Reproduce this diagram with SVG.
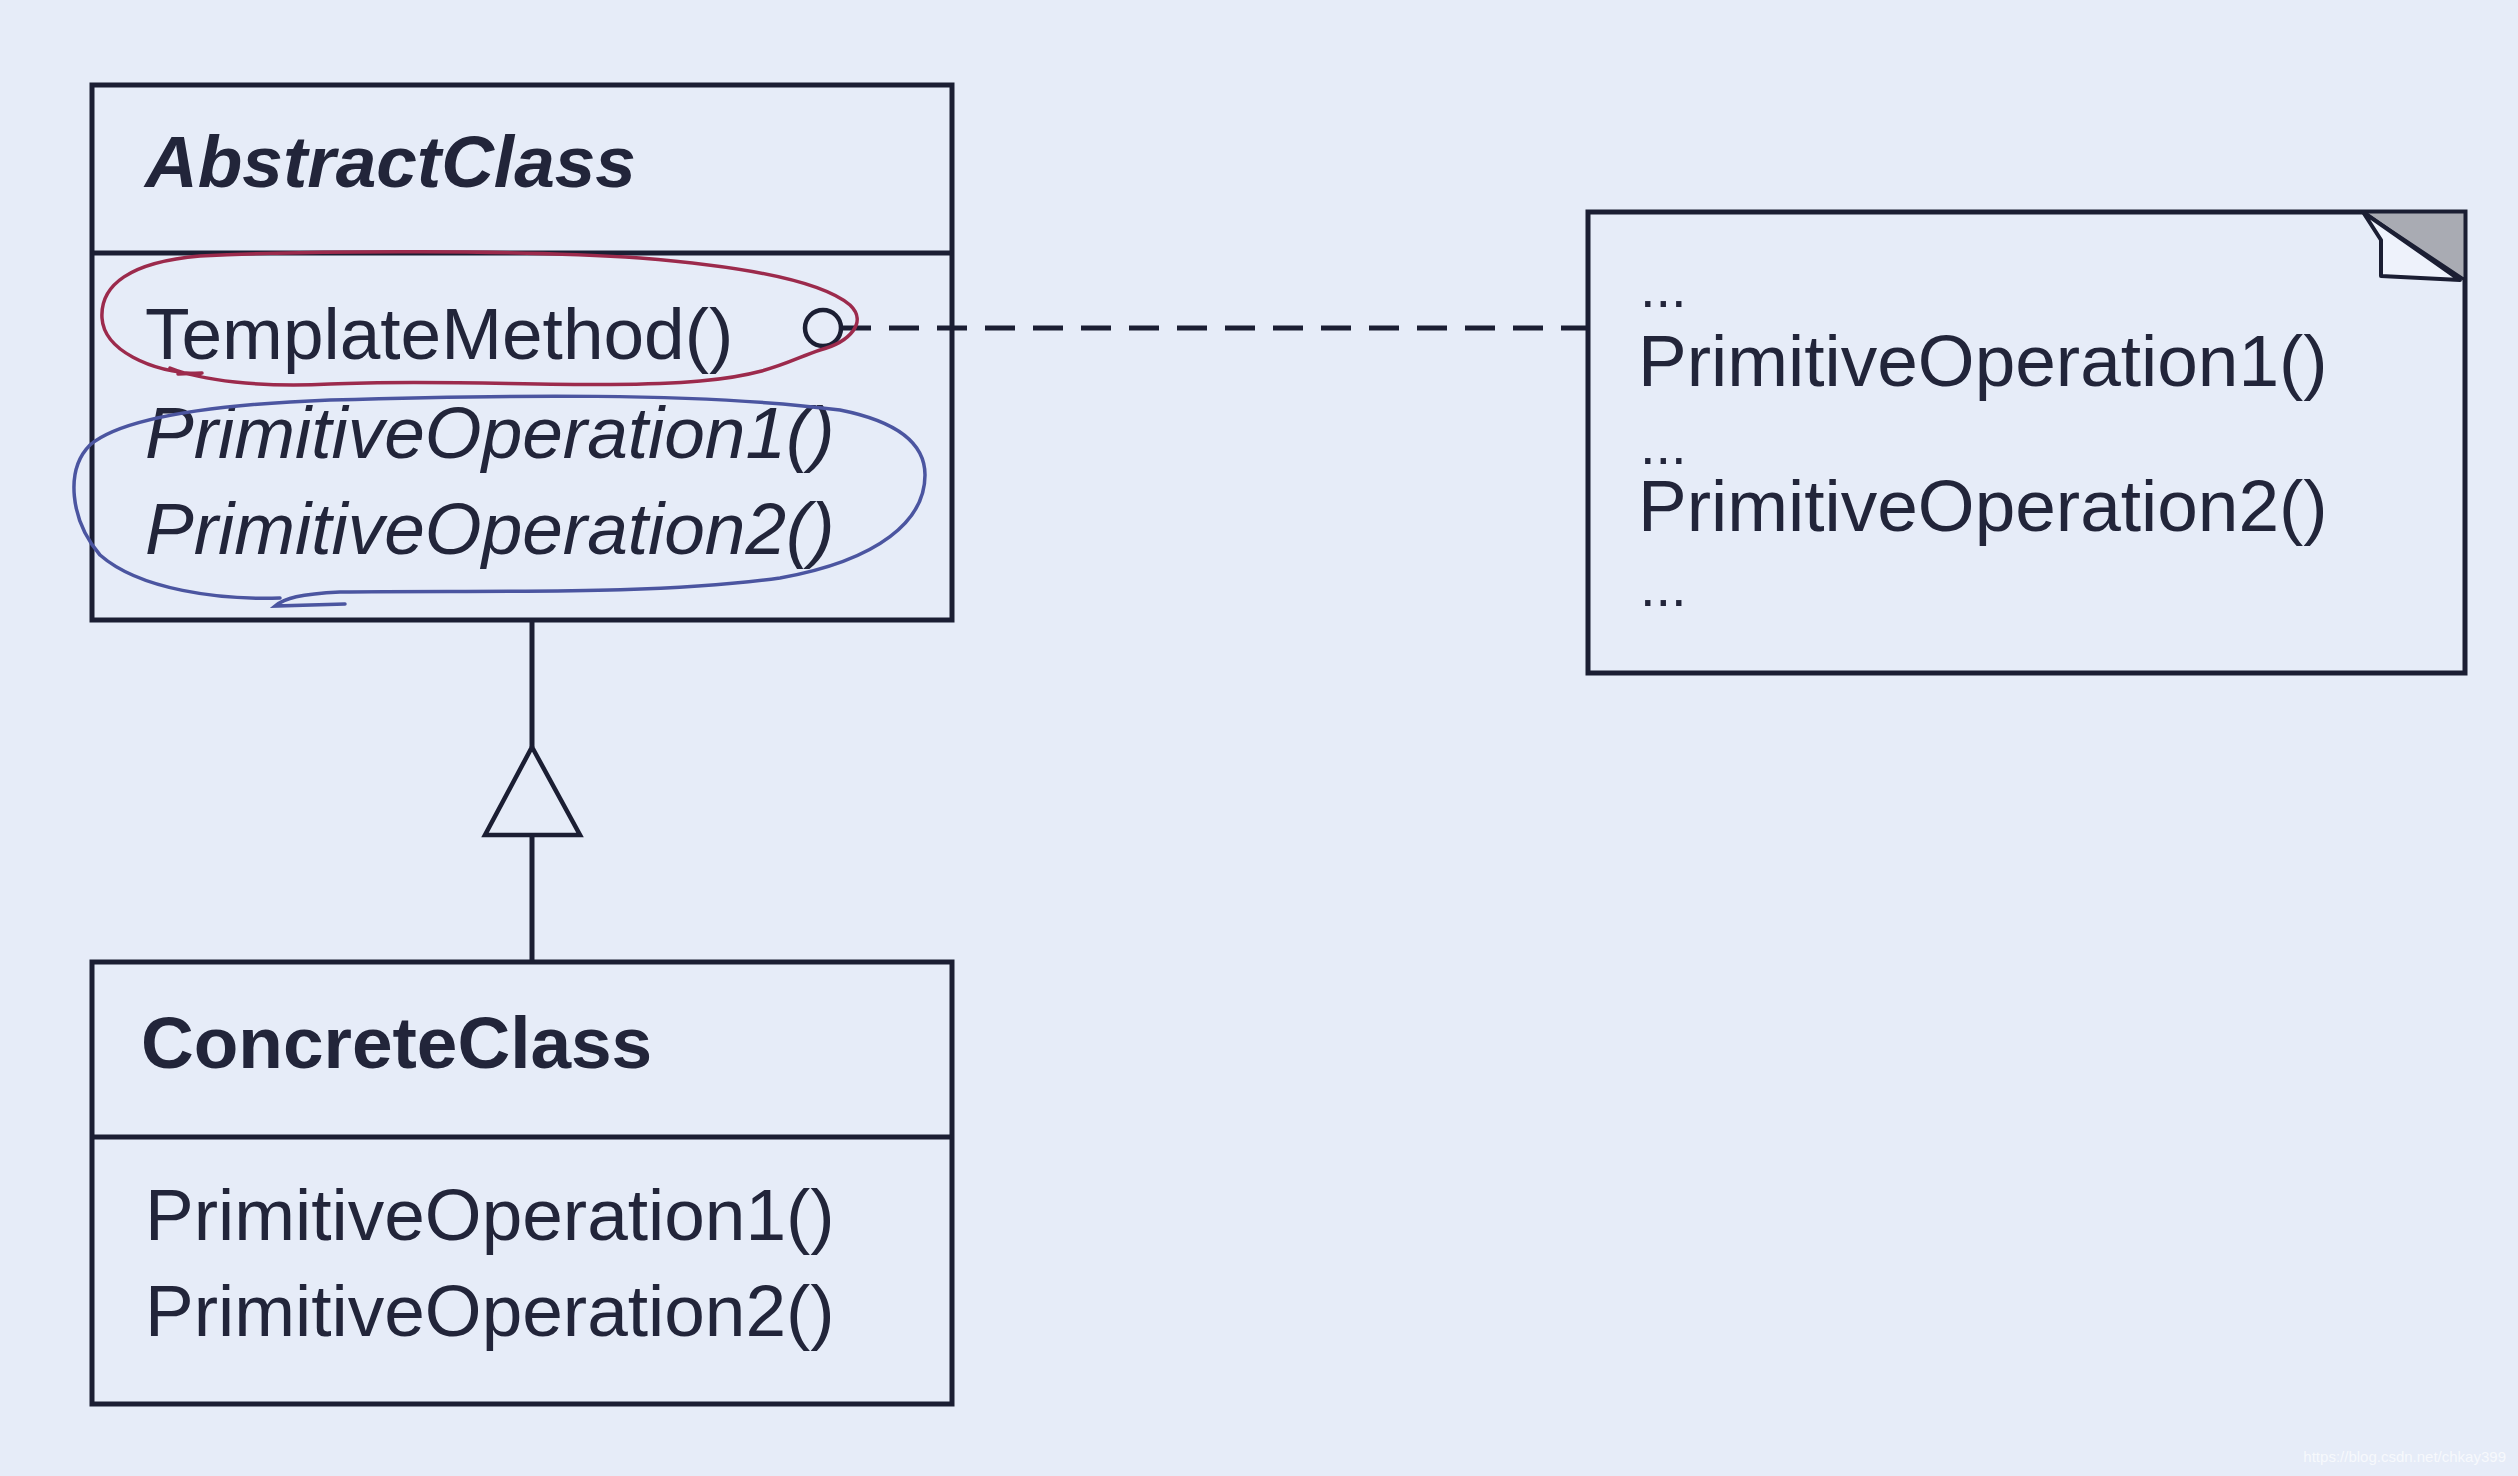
<svg xmlns="http://www.w3.org/2000/svg" width="2518" height="1476" viewBox="0 0 2518 1476">
  <style>
    .box { fill: none; stroke: #1b1e33; stroke-width: 5; }
    .line { fill: none; stroke: #1b1e33; stroke-width: 5; }
    .txt { font-family: "Liberation Sans", Arial, sans-serif; font-size: 73px; fill: #22253a; }
    .dots { font-family: "Liberation Sans", Arial, sans-serif; font-size: 56px; fill: #22253a; }
    .title { font-weight: bold; }
    .ital { font-style: italic; }
    .red { fill: none; stroke: #9c2a4c; stroke-width: 3.5; stroke-linecap: round; }
    .blue { fill: none; stroke: #4b55a0; stroke-width: 3.5; stroke-linecap: round; }
  </style>
  <rect x="0" y="0" width="2518" height="1476" fill="#e6ecf8"/>

  <g id="abstract-class">
    <rect class="box" x="92" y="85" width="860" height="535"/>
    <line class="line" x1="92" y1="253" x2="952" y2="253"/>
    <text class="txt title ital" x="145" y="187">AbstractClass</text>
    <text class="txt" x="145" y="359">TemplateMethod()</text>
    <text class="txt ital" x="145" y="458">PrimitiveOperation1()</text>
    <text class="txt ital" x="145" y="554">PrimitiveOperation2()</text>
  </g>

  <g id="concrete-class">
    <rect class="box" x="92" y="962" width="860" height="442"/>
    <line class="line" x1="92" y1="1137" x2="952" y2="1137"/>
    <text class="txt title" x="141" y="1068">ConcreteClass</text>
    <text class="txt" x="145" y="1240">PrimitiveOperation1()</text>
    <text class="txt" x="145" y="1336">PrimitiveOperation2()</text>
  </g>

  <g id="note">
    <rect class="box" x="1588" y="212" width="877" height="461"/>
    <polygon points="2363,212 2465,212 2465,280" fill="#a9abb3" stroke="#1b1e33" stroke-width="3"/>
    <polygon points="2363,212 2381,240 2381,276 2460,280" fill="#eef2fb" stroke="#1b1e33" stroke-width="4" stroke-linejoin="round"/>
    <text class="dots" x="1640" y="307">...</text>
    <text class="txt" x="1638" y="386">PrimitiveOperation1()</text>
    <text class="dots" x="1640" y="464">...</text>
    <text class="txt" x="1638" y="531">PrimitiveOperation2()</text>
    <text class="dots" x="1640" y="606">...</text>
  </g>

  <g id="connectors">
    <line class="line" x1="532" y1="620" x2="532" y2="747"/>
    <polygon points="532,747 580,835 485,835" fill="#e6ecf8" stroke="#1b1e33" stroke-width="4.5" stroke-linejoin="miter"/>
    <line class="line" x1="532" y1="835" x2="532" y2="962"/>
    <circle cx="823" cy="328" r="18" fill="none" stroke="#1b1e33" stroke-width="4.5"/>
    <line class="line" x1="841" y1="328" x2="1588" y2="328" stroke-dasharray="30 18"/>
  </g>

  <g id="annotations">
    <path class="red" d="M 200 374 C 150 372, 104 350, 102 318 C 100 285, 130 262, 200 256 C 320 250, 520 250, 640 258 C 740 266, 820 280, 850 305 C 868 322, 850 342, 820 350 C 790 360, 770 375, 700 381 C 600 390, 450 378, 330 384 C 260 388, 200 380, 170 368"/>
    <path class="red" d="M 178 374 L 202 373" stroke-width="6"/>
    <path class="blue" d="M 345 604 L 275 606 C 285 598, 300 594, 340 592 C 480 590, 650 596, 780 578 C 880 560, 925 520, 925 475 C 925 440, 890 420, 840 410 C 700 392, 500 395, 330 400 C 200 405, 120 420, 90 445 C 65 470, 70 520, 100 555 C 140 590, 220 600, 280 598"/>
  </g>

  <text x="2506" y="1462" text-anchor="end" font-family="Liberation Sans, Arial, sans-serif" font-size="15" fill="#ffffff" fill-opacity="0.7">https://blog.csdn.net/chkay399</text>
</svg>
